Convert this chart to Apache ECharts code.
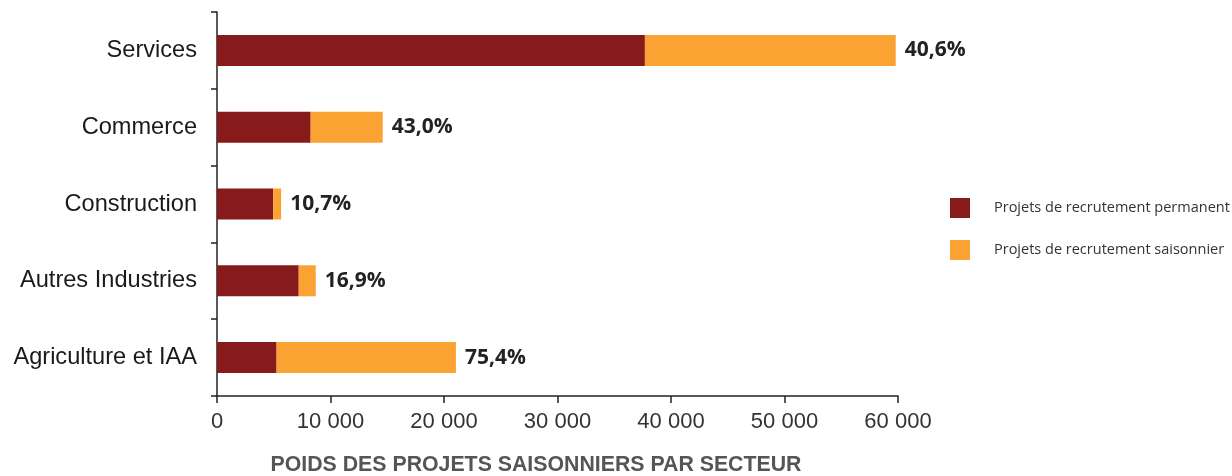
<!DOCTYPE html>
<html>
<head>
<meta charset="utf-8">
<script src="https://cdn.jsdelivr.net/npm/echarts@6/dist/echarts.min.js"></script>
<style>html,body{margin:0;padding:0;background:#fff;}#c{width:1232px;height:476px;}</style>
</head>
<body>
<div id="c"></div>
<script>
const categories = ['Services', 'Commerce', 'Construction', 'Autres Industries', 'Agriculture et IAA'];
const permanent = [37700, 8250, 4950, 7200, 5250];
const seasonal = [22100, 6350, 700, 1500, 15800];
const shareLabels = ['40,6%', '43,0%', '10,7%', '16,9%', '75,4%'];
const xTicks = [0, 10000, 20000, 30000, 40000, 50000, 60000];
const seriesNames = ['Projets de recrutement permanent', 'Projets de recrutement saisonnier'];
const chartTitle = 'POIDS DES PROJETS SAISONNIERS PAR SECTEUR';

const chart = echarts.init(document.getElementById('c'), null, {renderer: 'canvas'});
chart.setOption({
  animation: false,
  backgroundColor: '#fff',
  title: {
    text: chartTitle,
    left: 536, top: 455,
    textAlign: 'center',
    padding: 0,
    textStyle: {fontFamily: 'Liberation Sans, Arial', fontWeight: 'bold', fontSize: 21.3, color: '#555'}
  },
  legend: {
    orient: 'vertical',
    left: 950, top: 198,
    padding: 0,
    itemWidth: 20, itemHeight: 20, itemGap: 22,
    icon: 'rect',
    data: seriesNames,
    textStyle: {fontFamily: 'Open Sans', fontSize: 14.5, color: '#333', padding: [0, 0, 0, 19]}
  },
  grid: {left: 217, right: 334, top: 12, bottom: 80, containLabel: false},
  xAxis: {
    type: 'value',
    min: xTicks[0], max: xTicks[xTicks.length - 1], interval: 10000,
    splitLine: {show: false},
    axisLine: {show: true, lineStyle: {color: '#222', width: 1.5}},
    axisTick: {show: true, length: 7, lineStyle: {color: '#222', width: 1.5}},
    axisLabel: {
      margin: 15,
      fontFamily: 'Liberation Sans, Arial', fontSize: 22, color: '#333',
      formatter: v => v === 0 ? '0' : String(v).replace(/\B(?=(\d{3})+(?!\d))/g, ' ')
    }
  },
  yAxis: {
    type: 'category',
    data: categories,
    inverse: true,
    axisLine: {show: true, lineStyle: {color: '#222', width: 1.5}},
    axisTick: {show: true, length: 6, lineStyle: {color: '#222', width: 1.5}},
    axisLabel: {margin: 20, fontFamily: 'Liberation Sans, Arial', fontSize: 23.6, color: '#1a1a1a'}
  },
  series: [
    {
      name: seriesNames[0], type: 'bar', stack: 'total', data: permanent,
      barWidth: 31,
      itemStyle: {color: '#871A1A'}
    },
    {
      name: seriesNames[1], type: 'bar', stack: 'total', data: seasonal,
      barWidth: 31,
      itemStyle: {color: '#FAA333'},
      label: {
        show: true, position: 'right', distance: 9,
        formatter: p => shareLabels[p.dataIndex],
        fontFamily: 'Open Sans', fontWeight: 'bold', fontSize: 21, color: '#222'
      }
    }
  ]
});
</script>
</body>
</html>
